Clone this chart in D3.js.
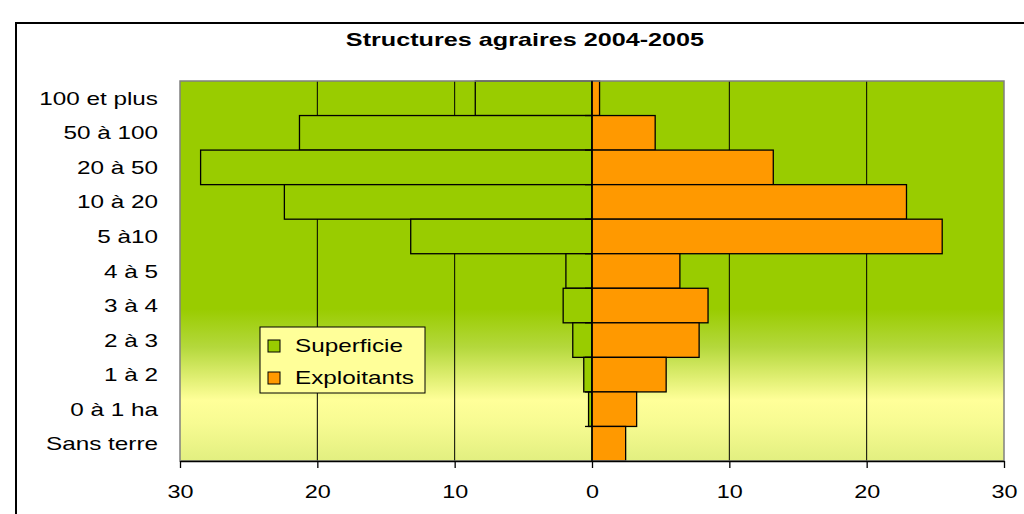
<!DOCTYPE html>
<html>
<head>
<meta charset="utf-8">
<script src="https://cdn.jsdelivr.net/npm/d3@7"></script>
<style>
  body { margin: 0; background: #fff; }
  svg { display: block; font-family: "Liberation Sans", Arial, sans-serif; }
</style>
</head>
<body>
<div class="chart-frame"></div>
<script>
var categories = ["100 et plus", "50 à 100", "20 à 50", "10 à 20", "5 à10", "4 à 5",
    "3 à 4", "2 à 3", "1 à 2", "0 à 1 ha", "Sans terre"];
var superficie = [8.5, 21.3, 28.5, 22.4, 13.2, 1.9, 2.1, 1.4, 0.6, 0.25, 0];
var exploitants = [0.55, 4.6, 13.2, 22.9, 25.5, 6.4, 8.45, 7.8, 5.4, 3.25, 2.45];
var xTicks = [-30, -20, -10, 0, 10, 20, 30];
var gridValues = [-20, -10, 10, 20];
var seriesNames = ["Superficie", "Exploitants"];
var seriesColors = ["#99CC00", "#FF9900"];

var width = 1024, height = 514;
var stretch = 1.35;

var svg = d3.select(".chart-frame")
    .append("svg")
    .attr("width", width)
    .attr("height", height);

// chart frame
svg.append("rect")
    .attr("x", 16).attr("y", 23)
    .attr("width", 1030).attr("height", 520)
    .style("fill", "white")
    .style("stroke", "black")
    .style("stroke-width", 2);

var x = d3.scaleLinear().domain([-30, 30]).range([180, 1004]);
var y = d3.scaleBand().domain(categories).range([81, 461]).padding(0);

// plot background gradient
var grad = svg.append("defs").append("linearGradient")
    .attr("id", "bg")
    .attr("x1", 0).attr("y1", 0).attr("x2", 0).attr("y2", 1);
[[0, "#99CC00"], [0.6, "#99CC00"], [0.7, "#B4D83C"], [0.84, "#FFFF99"], [0.9, "#F7FB92"], [1, "#E2EF80"]]
    .forEach(function (s) {
        grad.append("stop").attr("offset", s[0]).attr("stop-color", s[1]);
    });

svg.append("rect")
    .attr("x", x(-30)).attr("y", y.range()[0])
    .attr("width", x(30) - x(-30))
    .attr("height", y.range()[1] - y.range()[0])
    .style("fill", "url(#bg)");

// gridlines
svg.selectAll(".grid")
    .data(gridValues)
    .join("line")
    .attr("class", "grid")
    .attr("x1", d => x(d)).attr("x2", d => x(d))
    .attr("y1", y.range()[0]).attr("y2", y.range()[1])
    .style("stroke", "black")
    .style("stroke-width", 1);

// bars
svg.selectAll(".sup")
    .data(superficie)
    .join("rect")
    .attr("class", "sup")
    .attr("x", d => x(-d))
    .attr("y", (d, i) => y(categories[i]))
    .attr("width", d => x(0) - x(-d))
    .attr("height", y.bandwidth())
    .style("fill", seriesColors[0])
    .style("stroke", d => d > 0 ? "black" : "none")
    .style("stroke-width", 1.3);

svg.selectAll(".exp")
    .data(exploitants)
    .join("rect")
    .attr("class", "exp")
    .attr("x", x(0))
    .attr("y", (d, i) => y(categories[i]))
    .attr("width", d => x(d) - x(0))
    .attr("height", y.bandwidth())
    .style("fill", seriesColors[1])
    .style("stroke", "black")
    .style("stroke-width", 1.3);

// plot border
svg.append("rect")
    .attr("x", x(-30)).attr("y", y.range()[0])
    .attr("width", x(30) - x(-30))
    .attr("height", y.range()[1] - y.range()[0])
    .style("fill", "none")
    .style("stroke", "#808080")
    .style("stroke-width", 1.5);

// vertical category axis at zero
svg.append("line")
    .attr("x1", x(0)).attr("x2", x(0))
    .attr("y1", y.range()[0]).attr("y2", y.range()[1])
    .style("stroke", "black")
    .style("stroke-width", 1.5);

svg.selectAll(".ctick")
    .data(categories.slice(1))
    .join("line")
    .attr("class", "ctick")
    .attr("x1", x(0) - 7).attr("x2", x(0))
    .attr("y1", d => y(d)).attr("y2", d => y(d))
    .style("stroke", "black")
    .style("stroke-width", 1.3);

// category labels
svg.selectAll(".clabel")
    .data(categories)
    .join("text")
    .attr("class", "clabel")
    .attr("transform", d => `translate(158,${y(d) + y.bandwidth() / 2 + 6.5}) scale(${stretch},1)`)
    .style("text-anchor", "end")
    .style("font-size", "18px")
    .style("fill", "black")
    .text(d => d);

// value axis
var xAxis = svg.append("g")
    .attr("transform", `translate(0,${y.range()[1]})`)
    .call(d3.axisBottom(x)
        .tickValues(xTicks)
        .tickSize(7)
        .tickSizeOuter(0)
        .tickFormat(d => Math.abs(d)));

xAxis.select(".domain").style("stroke", "black").style("stroke-width", 1.5);
xAxis.selectAll(".tick line").style("stroke", "black").style("stroke-width", 1.3);
xAxis.selectAll(".tick text")
    .attr("y", 24)
    .attr("dy", "0.71em")
    .attr("transform", "scale(1.3,1)")
    .style("font-size", "18px")
    .style("font-family", '"Liberation Sans", Arial, sans-serif')
    .style("fill", "black");

// title
svg.append("text")
    .attr("transform", "translate(525,46) scale(1.4,1)")
    .style("text-anchor", "middle")
    .style("font-size", "18px")
    .style("font-weight", 700)
    .style("fill", "black")
    .text("Structures agraires 2004-2005");

// legend
var legend = svg.append("g");
legend.append("rect")
    .attr("x", 260).attr("y", 327)
    .attr("width", 165).attr("height", 66)
    .style("fill", "#FFFF99")
    .style("stroke", "black")
    .style("stroke-width", 1);

var items = legend.selectAll(".item")
    .data(seriesNames)
    .join("g")
    .attr("class", "item")
    .attr("transform", (d, i) => `translate(268,${340 + i * 32})`);

items.append("rect")
    .attr("width", 12).attr("height", 12)
    .style("fill", (d, i) => seriesColors[i])
    .style("stroke", "black")
    .style("stroke-width", 1);

items.append("text")
    .attr("transform", `translate(27,12) scale(${stretch},1)`)
    .style("font-size", "18px")
    .style("fill", "black")
    .text(d => d);
</script>
</body>
</html>
